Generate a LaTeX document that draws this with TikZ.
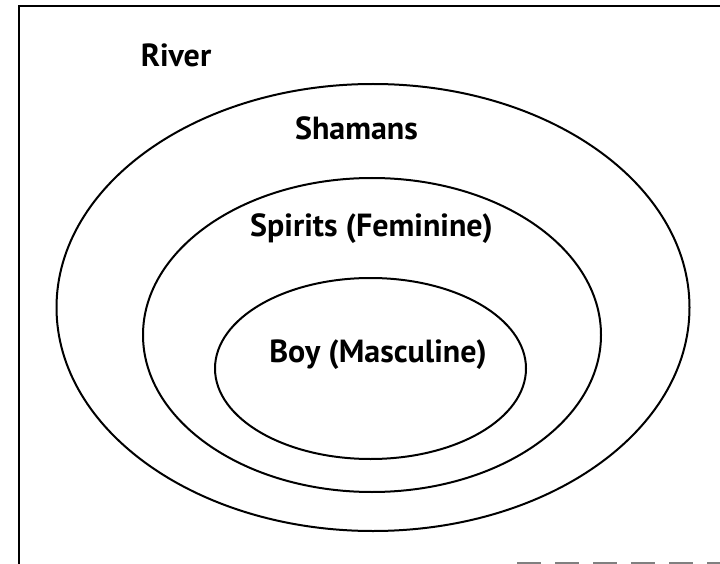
\documentclass[tikz,border=0pt]{standalone}
\usepackage{fontspec}
\setmainfont{PT Sans}
\tikzset{
  ring/.style={line width=2pt},
  layer/.style={font=\fontsize{32}{34}\selectfont\bfseries, inner sep=0pt}
}
\begin{document}
\begin{tikzpicture}[x=1pt,y=-1pt]
  \useasboundingbox (0,0) rectangle (720,564);
  % frame, cut off at the right and bottom
  \coordinate (tr) at (720,6);
  \coordinate (tl) at (19,6);
  \coordinate (bl) at (19,564);
  \draw[line width=2pt] (tr) -- (tl) -- (bl);
  \coordinate (bs) at (517,563);
  \coordinate (be) at (720,563);
  \draw[gray,line width=1.2pt,dash pattern=on 24pt off 14pt] (bs) -- (be);
  % nested rings
  \draw[ring] (373,307.5) ellipse [x radius=316.5, y radius=223.5];
  \draw[ring] (372,335) ellipse [x radius=229, y radius=157];
  \draw[ring] (370.5,368.5) ellipse [x radius=155.5, y radius=90.5];
  % labels
  \node[layer] (river) at (176,55) {River};
  \node[layer] (shamans) at (356.5,128) {Shamans};
  \node[layer] (spirits) at (371.5,229) {Spirits (Feminine)};
  \node[layer] (boy) at (378,355) {Boy (Masculine)};
\end{tikzpicture}
\end{document}
